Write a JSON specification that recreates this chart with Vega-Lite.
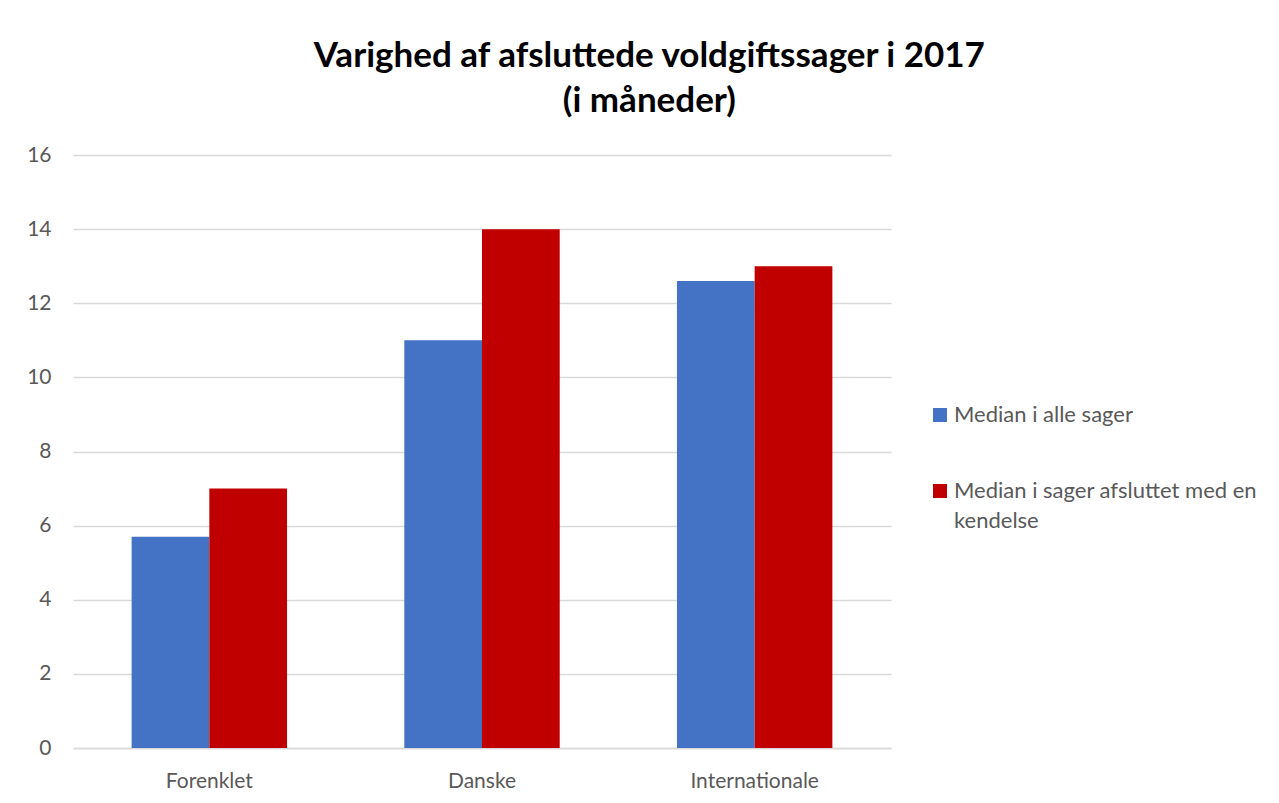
{
  "$schema": "https://vega.github.io/schema/vega-lite/v6.json",
  "width": 818,
  "height": 593,
  "padding": {"left": 26, "top": 39, "right": 10, "bottom": 10},
  "background": "white",
  "title": {
    "text": ["Varighed af afsluttede voldgiftssager i 2017", "(i måneder)"],
    "font": "Lato",
    "fontSize": 35,
    "fontWeight": "bold",
    "color": "#000000",
    "anchor": "middle",
    "frame": "bounds",
    "lineHeight": 45,
    "offset": 25,
    "dx": 7
  },
  "data": {
    "values": [
      {"kategori": "Forenklet", "serie": "Median i alle sager", "vaerdi": 5.7},
      {"kategori": "Forenklet", "serie": "Median i sager afsluttet med en kendelse", "vaerdi": 7},
      {"kategori": "Danske", "serie": "Median i alle sager", "vaerdi": 11},
      {"kategori": "Danske", "serie": "Median i sager afsluttet med en kendelse", "vaerdi": 14},
      {"kategori": "Internationale", "serie": "Median i alle sager", "vaerdi": 12.6},
      {"kategori": "Internationale", "serie": "Median i sager afsluttet med en kendelse", "vaerdi": 13}
    ]
  },
  "mark": {"type": "bar"},
  "encoding": {
    "x": {
      "field": "kategori",
      "type": "nominal",
      "sort": ["Forenklet", "Danske", "Internationale"],
      "scale": {"paddingInner": 0.43, "paddingOuter": 0.215},
      "axis": {
        "title": null,
        "labelAngle": 0,
        "labelFont": "Lato",
        "labelFontSize": 21,
        "labelColor": "#595959",
        "labelPadding": 22,
        "ticks": false,
        "domain": true,
        "domainColor": "#d9d9d9",
        "domainWidth": 1.5
      }
    },
    "xOffset": {
      "field": "serie",
      "type": "nominal",
      "sort": ["Median i alle sager", "Median i sager afsluttet med en kendelse"],
      "scale": {"paddingInner": 0}
    },
    "y": {
      "field": "vaerdi",
      "type": "quantitative",
      "scale": {"domain": [0, 16]},
      "axis": {
        "title": null,
        "values": [0, 2, 4, 6, 8, 10, 12, 14, 16],
        "labelFont": "Lato",
        "labelFontSize": 21,
        "labelColor": "#595959",
        "labelPadding": 22,
        "ticks": false,
        "domain": false,
        "grid": true,
        "gridColor": "#d9d9d9",
        "gridWidth": 1.5
      }
    },
    "color": {
      "field": "serie",
      "type": "nominal",
      "sort": ["Median i alle sager", "Median i sager afsluttet med en kendelse"],
      "scale": {
        "domain": ["Median i alle sager", "Median i sager afsluttet med en kendelse"],
        "range": ["#4472c4", "#c00000"]
      },
      "legend": {
        "title": null,
        "orient": "none",
        "legendX": 856,
        "legendY": 249,
        "symbolType": "square",
        "symbolSize": 196,
        "symbolStrokeWidth": 0,
        "labelFont": "Lato",
        "labelFontSize": 22,
        "labelColor": "#595959",
        "labelLimit": 400,
        "rowPadding": 54,
        "labelOffset": 3,
        "labelExpr": "datum.label == 'Median i sager afsluttet med en kendelse' ? ['Median i sager afsluttet med en', 'kendelse'] : datum.label",
        "labelBaseline": "middle"
      }
    }
  },
  "config": {
    "view": {"stroke": null},
    "style": {"guide-label": {"lineHeight": 30}}
  }
}
